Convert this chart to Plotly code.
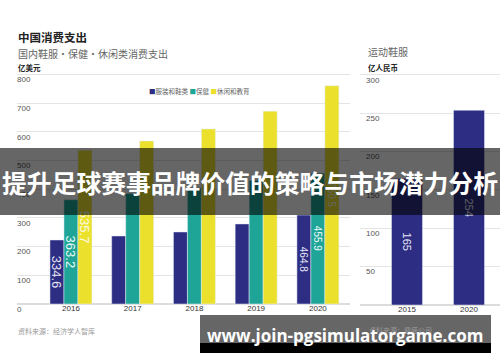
import plotly.graph_objects as go

W, H = 500, 362

# ---------------- data ----------------
years_left = ["2016", "2017", "2018", "2019", "2020"]
apparel_values = [223, 237, 251, 279, 310]        # bar heights as drawn
apparel_labels = ["334.6", "", "", "", "464.8"]    # printed labels
health_values = [363.2, 385, 405, 430, 455.9]
health_labels = ["363.2", "", "", "", "455.9"]
leisure_values = [535.7, 568, 610, 672, 760.5]
leisure_labels = ["535.7", "", "", "", "760.5"]
label_sizes = [13, 10, 10, 10, 10]

years_right = ["2015", "2020"]
sports_values = [165, 254]
sports_labels = ["165", "254"]

left_ticks = [0, 100, 200, 300, 400, 500, 600, 700, 800]
right_ticks = [50, 100, 150, 200, 250, 300]

NAVY = "#2e2d84"
TEAL = "#1ea597"
YELLOW = "#ebe12c"
CJK = "Noto Sans CJK SC"


def px(x):
    return x / W


def py(y):
    return 1 - y / H


fig = go.Figure()

common = dict(textposition="inside", insidetextanchor="middle", textangle=90,
              constraintext="none", cliponaxis=False)

fig.add_trace(go.Bar(x=years_left, y=apparel_values, text=apparel_labels, marker_color=NAVY,
                     textfont=dict(color="#e6e6f5", size=label_sizes, family="Liberation Sans"),
                     xaxis="x", yaxis="y", name="服装和鞋类", **common))
fig.add_trace(go.Bar(x=years_left, y=health_values, text=health_labels, marker_color=TEAL,
                     textfont=dict(color="#eafaf7", size=label_sizes, family="Liberation Sans"),
                     xaxis="x", yaxis="y", name="保健", **common))
fig.add_trace(go.Bar(x=years_left, y=leisure_values, text=leisure_labels, marker_color=YELLOW,
                     textfont=dict(color="#fbfbe6", size=label_sizes, family="Liberation Sans"),
                     xaxis="x", yaxis="y", name="休闲和教育", **common))
fig.add_trace(go.Bar(x=years_right, y=sports_values, text=sports_labels, marker_color=NAVY,
                     textfont=dict(color="#e6e6f5", size=11, family="Liberation Sans"),
                     xaxis="x2", yaxis="y2", name="运动鞋服", width=0.5, **common))

grid = "#e4e4e4"
tickfont = dict(family="Liberation Sans", size=8, color="#555")
catfont = dict(family="Liberation Sans", size=8, color="#333")

# left: 0 at y=304px, 0.287 px per unit ; right: 0 at y=305px, 0.7667 px per unit
L_K, R_K = 0.287, 0.7667
L_TOP, L_BOT = 830, -45
R_TOP, R_BOT = 312, 0

fig.update_layout(
    width=W, height=H,
    margin=dict(l=0, r=0, t=0, b=0, autoexpand=False),
    paper_bgcolor="white", plot_bgcolor="white",
    showlegend=False,
    barmode="group", bargap=0.32, bargroupgap=0,
    xaxis=dict(domain=[px(17), px(350)], type="category", range=[-0.874, 4.52],
               showgrid=False, showline=False, ticks="", tickfont=catfont,
               ticklabelstandoff=-2 - round(-L_BOT * L_K), zeroline=False),
    yaxis=dict(domain=[py(304 - L_BOT * L_K), py(304 - L_TOP * L_K)], range=[L_BOT, L_TOP],
               tickvals=left_ticks,
               ticklabelposition="inside", ticklabelshift=5, ticklabelstandoff=-3,
               showgrid=True, gridcolor=grid, gridwidth=1, zeroline=True,
               zerolinecolor="#dcdcdc", tickfont=tickfont, showline=False, ticks=""),
    xaxis2=dict(domain=[px(360), 1.0], type="category", range=[-0.758, 1.5],
                showgrid=False, showline=False, ticks="", tickfont=catfont,
                ticklabelstandoff=-2, anchor="y2", zeroline=False),
    yaxis2=dict(domain=[py(305), py(305 - R_TOP * R_K)], range=[R_BOT, R_TOP], tickvals=right_ticks,
                anchor="x2", ticklabelposition="inside", ticklabelshift=5,
                ticklabelstandoff=3,
                showgrid=True, gridcolor=grid, gridwidth=1, zeroline=True,
                zerolinecolor="#dcdcdc", tickfont=tickfont, showline=False, ticks=""),
)


def note(text, x, y, size, color="#222", family=CJK, xanchor="left", bold=False):
    if bold:
        text = "<b>" + text + "</b>"
    fig.add_annotation(text=text, x=px(x), y=py(y), xref="paper", yref="paper",
                       xanchor=xanchor, yanchor="middle", showarrow=False,
                       font=dict(size=size, color=color, family=family))


# titles
note("中国消费支出", 16, 37, 11.5, "#222", bold=True)
note("国内鞋服・保健・休闲类消费支出", 16, 53, 10, "#666")
note("亿美元", 16, 67, 7.5, "#222", bold=True)
note("运动鞋服", 366, 52, 10, "#666")
note("亿人民币", 366, 67, 7.5, "#222", bold=True)

# legend
legend_txt = (f'<span style="color:{NAVY}">■</span>服装和鞋类 '
              f'<span style="color:{TEAL}">■</span>保健 '
              f'<span style="color:{YELLOW}">■</span>休闲和教育')
note(legend_txt, 147, 91, 6.5, "#666")

# sources
note("资料来源：经济学人智库", 16, 331, 7, "#999")
note("资料来源：鼎盛公司", 367, 330, 7, "#999")

# overlay banners
fig.add_shape(type="rect", xref="paper", yref="paper", x0=0, x1=1, y0=py(215), y1=py(148),
              fillcolor="rgba(0,0,0,0.6)", line=dict(width=0), layer="above")
note("<b>提升足球赛事品牌价值的策略与市场潜力分析</b>", 250, 182, 24.8, "white", xanchor="center")

fig.add_shape(type="rect", xref="paper", yref="paper", x0=px(200), x1=px(491), y0=py(343), y1=py(315),
              fillcolor="rgba(0,0,0,0.6)", line=dict(width=0), layer="above")
fig.add_shape(type="rect", xref="paper", yref="paper", x0=px(200), x1=px(491), y0=py(353), y1=py(343),
              fillcolor="black", line=dict(width=0), layer="above")
note("<b>www.join-pgsimulatorgame.com</b>", 345, 335, 17, "white", family="Open Sans",
     xanchor="center")

fig.write_html("out.html", config={"displayModeBar": False},
               post_script="document.body.style.margin='0';document.body.style.overflow='hidden';")
